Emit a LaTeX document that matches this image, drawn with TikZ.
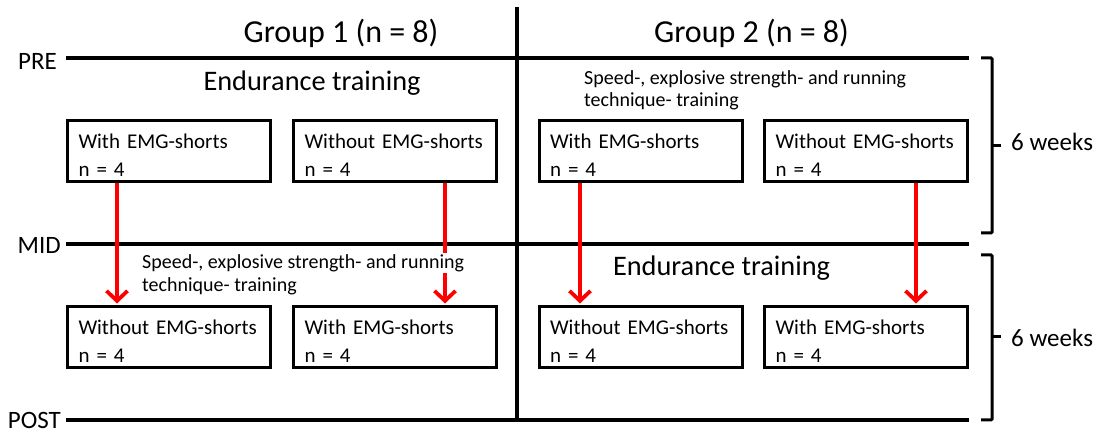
\documentclass[tikz,border=0pt]{standalone}
\usepackage{fontspec}
\setmainfont{Carlito}
\usetikzlibrary{arrows.meta}
% struts fixing the room above the first and below the last text line in a box
\newcommand{\topstrut}{\rule{0pt}{26pt}}
\newcommand{\botstrut}{\rule[-3pt]{0pt}{3pt}}
\begin{document}
\begin{tikzpicture}[x=1pt,y=-1pt,
  phase/.style={line width=4.5pt},
  divider/.style={line width=4pt},
  stagelabel/.style={anchor=east,font=\fontsize{25}{30}\selectfont,inner sep=0pt},
  grouptitle/.style={font=\fontsize{32}{38}\selectfont,inner sep=0pt},
  trainhead/.style={font=\fontsize{28.3}{34}\selectfont,inner sep=0pt},
  trainnote/.style={anchor=west,font=\fontsize{20}{24}\selectfont,inner sep=1pt},
  subgroup/.style={draw,line width=3pt,minimum width=203pt,minimum height=61pt,
    text width=181pt,inner xsep=11pt,inner ysep=0pt,align=left,
    font=\fontsize{21}{27}\selectfont},
  switch/.style={draw=red,line width=4pt,shorten >=1.5pt,
    -{Straight Barb[length=10pt,width=21pt,line width=3.8pt]}},
  bracket/.style={line width=3pt,rounded corners=1pt},
  duration/.style={anchor=west,font=\fontsize{25}{30}\selectfont,inner sep=0pt}]

\useasboundingbox (0,0) rectangle (1104,443);

% group headings and the dividing line
\node[grouptitle] (g1) at (341,33) {Group 1 (n = 8)};
\node[grouptitle] (g2) at (751.5,33) {Group 2 (n = 8)};
\draw[divider] (517,7) -- (517,420);

% measurement time points
\node[stagelabel] (pre)  at (57,61)  {PRE};
\node[stagelabel] (mid)  at (61,245) {MID};
\node[stagelabel] (post) at (61,420) {POST};
\draw[phase] (66,58)  -- (969,58);
\draw[phase] (66,244) -- (969,244);
\draw[phase] (66,420) -- (969,420);

% first training period
\node[trainhead] (end1) at (312,83) {Endurance training};
\node[trainnote] (spd2a) at (583,79)  {Speed-, explosive strength- and running};
\node[trainnote] (spd2b) at (583,101) {technique- training};

\node[subgroup] (b1) at (169,151)   {\topstrut With EMG-shorts\\[1pt]n = 4\botstrut};
\node[subgroup] (b2) at (395,151)   {\topstrut Without EMG-shorts\\[1pt]n = 4\botstrut};
\node[subgroup] (b3) at (640.5,151) {\topstrut With EMG-shorts\\[1pt]n = 4\botstrut};
\node[subgroup] (b4) at (866,151)   {\topstrut Without EMG-shorts\\[1pt]n = 4\botstrut};

% second training period
\node[subgroup] (b5) at (169,337)   {\topstrut Without EMG-shorts\\[1pt]n = 4\botstrut};
\node[subgroup] (b6) at (395,337)   {\topstrut With EMG-shorts\\[1pt]n = 4\botstrut};
\node[subgroup] (b7) at (640.5,337) {\topstrut Without EMG-shorts\\[1pt]n = 4\botstrut};
\node[subgroup] (b8) at (866,337)   {\topstrut With EMG-shorts\\[1pt]n = 4\botstrut};

% cross-over of the shorts condition
\coordinate (x1) at (117,0);
\coordinate (x2) at (445,0);
\coordinate (x3) at (580,0);
\coordinate (x4) at (916,0);
\draw[switch] (b1.south -| x1) -- (b5.north -| x1);
\draw[switch] (b2.south -| x2) -- (b6.north -| x2);
\draw[switch] (b3.south -| x3) -- (b7.north -| x3);
\draw[switch] (b4.south -| x4) -- (b8.north -| x4);

\node[trainnote,fill=white] (spd1a) at (141,263) {Speed-, explosive strength- and running};
\node[trainnote] (spd1b) at (141,286) {technique- training};
\node[trainhead] (end2) at (721.5,268) {Endurance training};

% period durations
\draw[bracket] (981,58) -- (992,58) -- (992,233) -- (981,233);
\draw[bracket] (992,146) -- (1001,146);
\draw[bracket] (981,255) -- (992,255) -- (992,420) -- (981,420);
\draw[bracket] (992,337) -- (1001,337);
\node[duration] (w1) at (1011,142) {6 weeks};
\node[duration] (w2) at (1011,338) {6 weeks};
\end{tikzpicture}
\end{document}
